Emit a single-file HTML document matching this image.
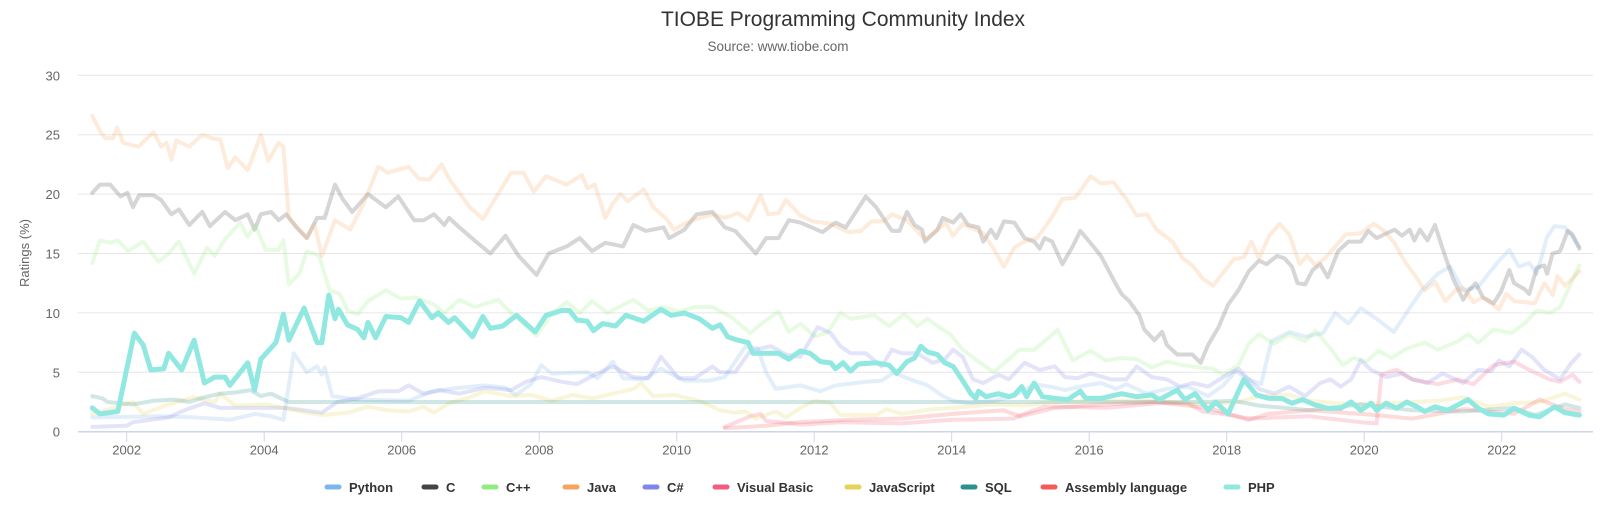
<!DOCTYPE html>
<html><head><meta charset="utf-8"><style>
html,body{margin:0;padding:0;background:#fff;}
svg{display:block;font-family:"Liberation Sans",sans-serif;}
</style></head><body>
<svg id="chart" width="1600" height="510" viewBox="0 0 1600 510">
<text x="843" y="26" text-anchor="middle" font-size="21" fill="#333">TIOBE Programming Community Index</text>
<text x="778" y="51" text-anchor="middle" font-size="13.5" fill="#666">Source: www.tiobe.com</text>
<text transform="translate(29,253) rotate(-90)" text-anchor="middle" font-size="13" fill="#666">Ratings (%)</text>
<g id="grid"></g><g id="xaxis"></g><g id="series"></g><g id="legend"></g>
</svg>
<script>
const yTicks=[0,5,10,15,20,25,30];
const xTicks=[2002,2004,2006,2008,2010,2012,2014,2016,2018,2020,2022];
const seriesNames=["Python","C","C++","Java","C#","Visual Basic","JavaScript","SQL","Assembly language","PHP"];
const seriesColors=["#7cb5ec","#434348","#90ed7d","#f7a35c","#8085e9","#f15c80","#e4d354","#2b908f","#f45b5b","#91e8e1"];

const pythonYears=[2001.5,2002.5,2003.0,2003.5,2003.87,2004.1,2004.28,2004.43,2004.62,2004.77,2004.84,2004.88,2004.99,2005.36,2006.10,2006.40,2006.69,2007.21,2007.51,2007.66,2007.88,2008.03,2008.18,2008.70,2008.85,2009.07,2009.22,2009.52,2009.77,2010.11,2010.48,2010.70,2011.0,2011.18,2011.30,2011.44,2011.80,2012.09,2012.31,2012.75,2012.98,2013.16,2013.35,2013.65,2013.87,2014.02,2014.24,2014.61,2014.91,2015.2,2015.43,2015.65,2015.95,2016.17,2016.39,2016.54,2016.84,2017.13,2017.43,2017.73,2017.95,2018.13,2018.32,2018.5,2018.65,2018.91,2019.14,2019.4,2019.58,2019.77,2019.95,2020.18,2020.43,2020.66,2020.84,2021.07,2021.25,2021.44,2021.66,2021.81,2021.96,2022.11,2022.25,2022.40,2022.51,2022.66,2022.77,2022.92,2023.03,2023.13];
const pythonVals=[1.2,1.3,1.2,1.0,1.5,1.3,1.0,6.6,5.0,5.5,4.8,5.4,3.0,2.7,2.6,3.3,3.6,3.9,3.7,3.1,4.0,5.6,4.9,5.0,4.5,5.9,4.5,4.4,5.3,4.3,4.3,4.6,7.2,7.0,5.0,3.6,3.9,3.4,3.9,4.2,4.3,5.0,4.5,3.9,3.0,2.6,2.4,2.6,3.0,4.0,3.8,3.5,3.9,4.1,3.6,4.0,3.2,3.6,3.8,3.0,3.9,5.1,4.4,4.0,7.6,8.4,8.0,8.3,10.0,9.1,10.4,9.5,8.4,10.4,11.9,13.3,13.9,11.9,12.2,13.3,14.4,15.3,13.9,14.2,13.3,16.4,17.3,17.2,16.4,15.6];

const cYears=[2001.50,2001.61,2001.76,2001.91,2002.01,2002.09,2002.18,2002.39,2002.50,2002.65,2002.76,2002.91,2003.10,2003.21,2003.43,2003.58,2003.76,2003.86,2003.95,2004.10,2004.21,2004.32,2004.47,2004.62,2004.77,2004.88,2005.03,2005.14,2005.28,2005.51,2005.77,2005.95,2006.18,2006.32,2006.47,2006.62,2006.69,2006.84,2007.10,2007.29,2007.51,2007.70,2007.96,2008.14,2008.40,2008.59,2008.77,2008.96,2009.22,2009.37,2009.55,2009.81,2009.89,2010.11,2010.29,2010.52,2010.70,2010.85,2011.15,2011.30,2011.48,2011.63,2011.80,2012.12,2012.31,2012.46,2012.75,2012.90,2013.13,2013.24,2013.35,2013.46,2013.57,2013.61,2013.79,2013.87,2014.02,2014.13,2014.24,2014.39,2014.46,2014.57,2014.65,2014.76,2014.91,2015.06,2015.20,2015.28,2015.35,2015.46,2015.61,2015.76,2015.87,2016.06,2016.17,2016.28,2016.39,2016.47,2016.58,2016.73,2016.80,2016.95,2017.06,2017.13,2017.28,2017.50,2017.62,2017.73,2017.88,2018.02,2018.17,2018.32,2018.47,2018.58,2018.73,2018.84,2018.95,2019.03,2019.14,2019.25,2019.36,2019.47,2019.62,2019.77,2019.95,2020.06,2020.18,2020.29,2020.44,2020.55,2020.66,2020.73,2020.81,2020.92,2021.03,2021.14,2021.29,2021.44,2021.51,2021.62,2021.73,2021.88,2021.99,2022.11,2022.18,2022.33,2022.40,2022.51,2022.62,2022.66,2022.74,2022.85,2022.96,2023.03,2023.13];
const cVals=[20.1,20.8,20.8,19.8,20.1,18.9,19.9,19.9,19.5,18.3,18.7,17.4,18.5,17.3,18.5,17.8,18.3,17.0,18.3,18.5,17.8,18.3,17.2,16.3,18.0,18.0,20.8,19.6,18.5,20.0,18.9,19.8,17.8,17.8,18.3,17.4,18.0,17.2,15.9,15.0,16.5,14.8,13.2,15.0,15.6,16.3,15.2,15.9,15.6,17.4,16.9,17.2,16.3,17.0,18.3,18.5,17.2,16.9,15.0,16.3,16.3,17.8,17.6,16.8,17.6,17.2,19.8,18.9,16.9,16.9,18.5,17.4,17.0,16.0,17.0,18.0,17.6,18.3,17.4,17.2,16.0,17.0,16.3,17.7,17.6,16.3,16.0,15.4,16.3,16.0,14.1,15.6,16.9,15.6,14.8,13.6,12.4,11.6,11.0,9.8,8.6,7.7,8.4,7.3,6.5,6.5,5.8,7.3,8.8,10.7,11.9,13.5,14.4,14.1,14.8,14.6,13.9,12.5,12.4,13.6,14.1,13.0,15.2,16.0,16.0,16.9,16.3,16.6,17.0,16.5,17.0,16.1,17.0,16.1,17.4,15.4,12.9,11.1,11.8,12.5,11.3,10.8,11.8,13.6,12.5,12.0,11.6,13.8,14.0,13.3,15.0,15.2,16.9,16.6,15.4];

const cppYears=[2001.50,2001.61,2001.76,2001.87,2002.02,2002.24,2002.46,2002.61,2002.76,2002.98,2003.17,2003.28,2003.43,2003.65,2003.76,2003.87,2004.02,2004.21,2004.28,2004.36,2004.51,2004.62,2004.80,2004.95,2005.10,2005.21,2005.36,2005.51,2005.77,2005.99,2006.21,2006.47,2006.62,2006.84,2007.06,2007.40,2007.59,2007.96,2008.18,2008.40,2008.59,2008.77,2008.99,2009.37,2009.59,2009.81,2010.03,2010.26,2010.52,2010.78,2011.07,2011.26,2011.48,2011.63,2011.80,2012.01,2012.20,2012.38,2012.53,2012.87,2013.09,2013.31,2013.50,2013.65,2013.79,2013.98,2014.16,2014.39,2014.61,2014.83,2014.98,2015.20,2015.43,2015.54,2015.76,2016.02,2016.24,2016.47,2016.69,2016.91,2017.13,2017.36,2017.62,2017.80,2017.95,2018.17,2018.32,2018.47,2018.69,2018.91,2019.14,2019.29,2019.51,2019.69,2019.84,2020.03,2020.21,2020.40,2020.62,2020.88,2021.07,2021.36,2021.51,2021.66,2021.88,2022.14,2022.33,2022.51,2022.70,2022.85,2023.00,2023.13];
const cppVals=[14.2,16.1,15.9,16.1,15.2,16.0,14.3,15.0,16.0,13.3,15.5,14.8,16.2,17.6,16.4,17.4,15.3,15.3,16.1,12.4,13.3,15.2,14.8,11.9,11.6,10.2,9.9,11.0,11.9,11.2,11.3,10.7,10.0,11.1,10.5,11.1,10.0,8.1,9.9,10.9,10.0,11.0,10.0,11.1,10.2,10.5,10.1,10.5,10.5,9.7,8.3,9.2,10.1,8.4,9.1,8.0,8.4,10.0,9.5,9.8,8.9,9.9,8.9,9.5,8.9,8.2,6.9,5.9,5.0,6.1,6.9,6.9,8.0,8.6,6.0,6.8,6.0,6.2,6.1,5.4,5.9,5.6,5.4,5.3,4.8,5.6,7.4,8.2,7.4,8.2,7.6,8.5,7.0,5.6,6.2,5.9,6.8,6.2,7.0,7.5,6.9,7.6,8.2,7.5,8.6,8.3,9.1,10.2,10.0,10.5,12.4,14.0];

const javaYears=[2001.50,2001.61,2001.69,2001.80,2001.86,2001.95,2002.17,2002.39,2002.50,2002.58,2002.65,2002.72,2002.91,2003.10,2003.24,2003.36,2003.47,2003.58,2003.76,2003.95,2004.06,2004.21,2004.28,2004.36,2004.62,2004.73,2004.84,2005.03,2005.25,2005.43,2005.66,2005.80,2006.10,2006.25,2006.40,2006.58,2006.69,2006.99,2007.18,2007.59,2007.77,2007.92,2008.10,2008.40,2008.62,2008.70,2008.81,2008.96,2009.07,2009.18,2009.29,2009.52,2009.66,2009.85,2009.96,2010.11,2010.29,2010.52,2010.70,2010.89,2011.04,2011.22,2011.33,2011.48,2011.59,2011.80,2011.98,2012.24,2012.50,2012.68,2012.83,2013.01,2013.13,2013.35,2013.61,2013.76,2013.91,2014.02,2014.16,2014.46,2014.61,2014.76,2014.91,2015.06,2015.24,2015.43,2015.61,2015.80,2016.02,2016.17,2016.35,2016.54,2016.69,2016.84,2016.98,2017.21,2017.36,2017.50,2017.65,2017.80,2017.91,2018.10,2018.25,2018.36,2018.47,2018.62,2018.77,2018.91,2019.06,2019.17,2019.29,2019.43,2019.58,2019.73,2019.95,2020.14,2020.29,2020.44,2020.58,2020.77,2020.88,2021.03,2021.18,2021.33,2021.44,2021.59,2021.73,2021.96,2022.07,2022.18,2022.33,2022.48,2022.62,2022.74,2022.81,2022.92,2023.03,2023.13];
const javaVals=[26.6,25.3,24.7,24.7,25.6,24.3,24.0,25.2,24.0,24.3,22.9,24.5,24.0,25.0,24.7,24.6,22.2,23.1,22.0,25.0,22.8,24.3,24.0,18.0,16.3,17.5,14.8,17.8,17.0,19.0,22.3,21.8,22.3,21.3,21.2,22.5,21.3,18.9,17.9,21.8,21.8,20.2,21.5,20.8,21.6,20.5,20.8,18.0,19.2,20.0,19.4,20.4,18.9,17.9,17.0,17.5,17.9,18.3,18.0,18.4,17.8,19.9,18.3,18.4,19.5,18.2,17.7,17.5,16.8,16.9,17.7,17.7,18.3,17.8,16.2,16.8,17.6,16.5,17.5,16.7,15.4,13.9,15.5,16.0,16.3,17.8,19.6,19.7,21.5,20.9,21.0,19.6,18.2,18.3,17.0,16.0,14.6,14.0,12.9,12.3,13.1,14.5,14.7,16.0,14.6,16.5,17.5,16.6,14.1,14.8,14.0,14.6,15.6,16.6,16.7,17.5,16.9,15.9,14.4,12.9,11.9,12.6,11.0,11.9,12.1,10.9,11.3,10.3,11.6,11.0,10.9,10.8,12.5,11.5,13.1,12.3,12.9,13.5];

const csharpYears=[2001.5,2002.0,2002.09,2002.61,2002.84,2003.13,2003.36,2003.87,2004.32,2004.84,2005.06,2005.36,2005.66,2005.95,2006.10,2006.32,2006.55,2006.84,2007.21,2007.59,2007.81,2008.03,2008.33,2008.55,2008.81,2009.07,2009.37,2009.59,2009.77,2010.03,2010.26,2010.52,2010.63,2010.85,2011.07,2011.37,2011.59,2011.80,2012.05,2012.24,2012.38,2012.53,2012.75,2012.98,2013.13,2013.27,2013.50,2013.72,2013.9,2014.02,2014.16,2014.31,2014.46,2014.68,2014.83,2015.06,2015.28,2015.50,2015.65,2015.83,2016.02,2016.32,2016.54,2016.69,2016.91,2017.13,2017.32,2017.5,2017.73,2017.95,2018.17,2018.32,2018.47,2018.69,2018.91,2019.14,2019.36,2019.51,2019.66,2019.81,2019.95,2020.10,2020.32,2020.55,2020.70,2020.92,2021.14,2021.44,2021.66,2021.85,2021.96,2022.11,2022.29,2022.44,2022.62,2022.85,2023.0,2023.13];
const csharpVals=[0.4,0.5,0.8,1.2,1.8,2.4,2.0,2.0,2.0,1.6,2.5,2.8,3.4,3.4,3.9,3.2,3.5,3.2,3.7,3.5,4.2,4.6,4.2,4.0,4.8,5.5,4.6,4.5,6.3,4.5,4.5,5.5,5.0,5.0,6.8,7.2,6.5,6.3,8.8,8.3,7.2,6.6,6.6,5.5,6.9,6.6,6.6,5.8,6.1,6.9,6.3,4.4,4.1,4.8,4.4,5.8,5.2,5.5,4.6,4.5,4.9,4.4,4.4,5.5,4.6,4.4,3.8,4.1,3.8,4.6,5.3,4.4,3.6,3.2,3.8,3.0,4.1,4.4,3.8,4.4,6.0,5.2,4.6,4.9,4.4,4.1,4.9,4.1,5.2,5.1,6.0,5.5,6.9,6.3,5.2,4.4,5.7,6.5];

const vbYears=[2010.70,2011.07,2011.22,2011.30,2011.67,2011.79,2012.38,2013.27,2014.02,2014.90,2015.05,2015.35,2015.65,2016.25,2017.0,2017.43,2017.65,2017.95,2018.32,2019.20,2019.95,2020.18,2020.25,2020.47,2020.70,2021.07,2021.36,2021.59,2021.88,2022.18,2022.40,2022.70,2022.85,2023.03,2023.13];
const vbVals=[0.4,1.3,1.5,0.9,0.7,0.6,0.8,0.7,1.0,1.1,1.5,2.1,2.1,2.0,2.4,2.4,1.7,1.5,1.1,1.3,0.8,0.7,4.8,5.2,4.4,4.0,4.4,4.0,5.6,5.9,5.2,4.4,4.2,4.8,4.2];

const jsYears=[2001.5,2002.09,2002.24,2002.61,2002.98,2003.28,2003.36,2003.58,2004.02,2004.28,2004.62,2004.84,2005.21,2005.51,2005.80,2006.10,2006.32,2006.47,2006.69,2006.99,2007.21,2007.59,2007.88,2008.18,2008.48,2008.77,2009.07,2009.37,2009.48,2009.66,2009.96,2010.33,2010.63,2010.85,2011.0,2011.15,2011.44,2011.59,2011.80,2012.01,2012.24,2012.38,2012.9,2013.05,2013.27,2013.72,2014.02,2014.6,2015.05,2015.5,2016.24,2016.98,2017.43,2017.73,2018.17,2018.47,2018.91,2019.2,2019.8,2020.32,2020.7,2021.07,2021.44,2021.81,2022.18,2022.55,2022.92,2023.13];
const jsVals=[1.5,2.5,1.5,2.3,2.9,2.5,3.2,2.2,2.3,2.0,1.6,1.4,1.6,2.1,1.8,1.7,2.1,1.6,2.4,2.9,3.4,3.0,3.1,2.6,3.1,2.8,3.2,3.6,4.1,3.0,3.1,2.6,1.8,1.6,1.7,1.1,1.7,1.2,2.0,2.6,2.4,1.4,1.4,1.9,1.5,1.9,2.0,2.3,2.2,2.5,2.6,2.6,2.4,2.3,2.5,3.0,3.1,2.6,2.3,2.4,2.5,2.6,2.9,2.1,2.4,2.5,3.2,2.7];

const sqlYears=[2001.5,2001.65,2001.72,2002.09,2002.39,2002.69,2002.91,2003.13,2003.36,2003.58,2003.80,2003.95,2004.10,2004.28,2004.36,2017.73,2018.10,2018.47,2018.84,2019.2,2019.95,2020.7,2021.44,2022.18,2022.48,2022.92,2023.13];
const sqlVals=[3.0,2.8,2.5,2.3,2.6,2.7,2.5,2.9,3.2,3.3,3.5,3.0,3.2,2.7,2.5,2.5,2.6,2.2,2.0,1.8,2.3,1.8,1.7,2.0,1.4,2.3,2.0];

const asmYears=[2010.70,2011.3,2011.79,2012.53,2013.27,2014.02,2014.75,2015.0,2015.5,2016.24,2016.98,2017.73,2018.32,2018.6,2019.2,2019.95,2020.7,2021.44,2022.18,2022.55,2022.92,2023.13];
const asmVals=[0.3,0.5,0.8,1.0,1.1,1.5,1.8,1.3,2.0,2.3,2.5,2.0,1.0,1.5,1.8,1.5,1.1,1.9,1.5,2.7,1.9,1.7];

const phpYears=[2001.50,2001.61,2001.87,2002.11,2002.24,2002.35,2002.54,2002.61,2002.80,2002.98,2003.13,2003.28,2003.43,2003.50,2003.76,2003.86,2003.95,2004.17,2004.28,2004.36,2004.58,2004.77,2004.84,2004.94,2005.03,2005.08,2005.21,2005.36,2005.45,2005.51,2005.62,2005.77,2005.99,2006.10,2006.26,2006.44,2006.53,2006.68,2006.77,2007.03,2007.18,2007.29,2007.47,2007.67,2007.94,2008.10,2008.33,2008.44,2008.55,2008.70,2008.79,2008.92,2009.11,2009.26,2009.52,2009.77,2009.92,2010.11,2010.33,2010.52,2010.63,2010.74,2010.89,2011.04,2011.11,2011.48,2011.63,2011.80,2011.94,2012.09,2012.24,2012.31,2012.42,2012.53,2012.64,2012.90,2013.09,2013.20,2013.35,2013.46,2013.55,2013.65,2013.79,2013.90,2014.02,2014.16,2014.28,2014.35,2014.39,2014.50,2014.68,2014.83,2014.91,2015.02,2015.09,2015.20,2015.32,2015.50,2015.69,2015.87,2015.95,2016.17,2016.47,2016.69,2016.91,2017.02,2017.28,2017.39,2017.54,2017.73,2017.84,2018.02,2018.25,2018.43,2018.62,2018.80,2018.95,2019.10,2019.29,2019.47,2019.66,2019.81,2019.95,2020.10,2020.18,2020.32,2020.47,2020.62,2020.77,2020.88,2021.03,2021.21,2021.51,2021.66,2021.81,2022.03,2022.18,2022.40,2022.55,2022.77,2022.92,2023.13];
const phpVals=[2.0,1.5,1.7,8.3,7.3,5.2,5.3,6.6,5.2,7.7,4.1,4.6,4.6,3.9,5.8,3.5,6.1,7.5,9.9,7.7,10.4,7.5,7.5,11.5,9.5,10.3,9.0,8.6,7.9,9.2,7.9,9.7,9.6,9.2,11.0,9.6,10.0,9.2,9.6,8.0,9.7,8.7,8.9,9.8,8.4,9.8,10.2,10.2,9.4,9.3,8.5,9.1,8.9,9.8,9.3,10.3,9.8,10.0,9.5,8.7,9.0,8.0,7.7,7.5,6.6,6.6,6.1,6.8,6.6,5.9,5.8,5.3,5.8,5.1,5.7,5.8,5.6,4.9,5.9,6.2,7.2,6.7,6.5,5.8,5.5,4.3,3.2,2.8,3.4,2.95,3.2,2.95,3.1,3.8,2.95,4.1,2.95,2.8,2.7,3.4,2.8,2.8,3.2,2.95,3.1,2.7,3.5,2.7,3.2,1.8,2.5,1.5,4.4,3.1,2.8,2.8,2.4,2.7,2.25,1.97,1.97,2.5,1.8,2.4,1.8,2.4,1.97,2.5,2.1,1.7,2.1,1.8,2.7,1.97,1.5,1.4,1.97,1.4,1.25,2.1,1.6,1.4];

const seriesYears=[pythonYears,cYears,cppYears,javaYears,csharpYears,vbYears,jsYears,sqlYears,asmYears,phpYears];
const seriesVals=[pythonVals,cVals,cppVals,javaVals,csharpVals,vbVals,jsVals,sqlVals,asmVals,phpVals];
const highlighted="PHP";

const NS="http://www.w3.org/2000/svg";
const plotLeft=78, plotRight=1593, y0px=431.7, y30px=75.3;
function xScale(yr){return 126.7+(yr-2002)*68.75;}
function yScale(v){return y0px-(v/30)*(y0px-y30px);}
function mk(tag,attrs,parent){const e=document.createElementNS(NS,tag);for(const k in attrs)e.setAttribute(k,attrs[k]);parent.appendChild(e);return e;}

const grid=document.getElementById('grid');
yTicks.forEach(t=>{
  const y=yScale(t);
  if(t>0){const l=mk('line',{x1:plotLeft,x2:plotRight,y1:y,y2:y,stroke:'#e6e6e6','stroke-width':1},grid);
    
    }
  const tx=mk('text',{x:60,y:y+5,'text-anchor':'end','font-size':13,fill:'#666'},grid);
  tx.textContent=t;
  
  
});
const xa=document.getElementById('xaxis');
const axisLine=mk('line',{x1:plotLeft,x2:plotRight,y1:y0px,y2:y0px,stroke:'#ccd6eb','stroke-width':1.5},xa);


xTicks.forEach(t=>{
  const x=xScale(t);
  const tk=mk('line',{x1:x,x2:x,y1:y0px,y2:y0px+10,stroke:'#ccd6eb','stroke-width':1},xa);
  
  
  const tx=mk('text',{x:x,y:y0px+23,'text-anchor':'middle','font-size':13,fill:'#666'},xa);
  tx.textContent=t;
  
  
});

const sg=document.getElementById('series');
const order=[0,1,2,3,4,5,6,7,8,9];
order.forEach(i=>{
  const ys=seriesYears[i], vs=seriesVals[i];
  let d='';
  for(let k=0;k<ys.length;k++){d+=(k?'L':'M')+xScale(ys[k]).toFixed(1)+','+yScale(vs[k]).toFixed(1);}
  const hl=seriesNames[i]===highlighted;
  const p=mk('path',{d:d,fill:'none',stroke:seriesColors[i],'stroke-width':hl?5:4,'stroke-opacity':hl?1:0.22,'stroke-linejoin':'round','stroke-linecap':'round'},sg);
  
  
});

const lg=document.getElementById('legend');
const legendX=[327,424,484,565,645,715,847,963,1043,1226];
seriesNames.forEach((n,i)=>{
  const g=mk('g',{},lg);
  
  
  mk('line',{x1:legendX[i],x2:legendX[i]+12,y1:487,y2:487,stroke:seriesColors[i],'stroke-width':5,'stroke-linecap':'round'},g);
  const t=mk('text',{x:legendX[i]+22,y:492,'font-size':13,'font-weight':'bold',fill:'#333'},g);
  t.textContent=n;
});
</script>
</body></html>
